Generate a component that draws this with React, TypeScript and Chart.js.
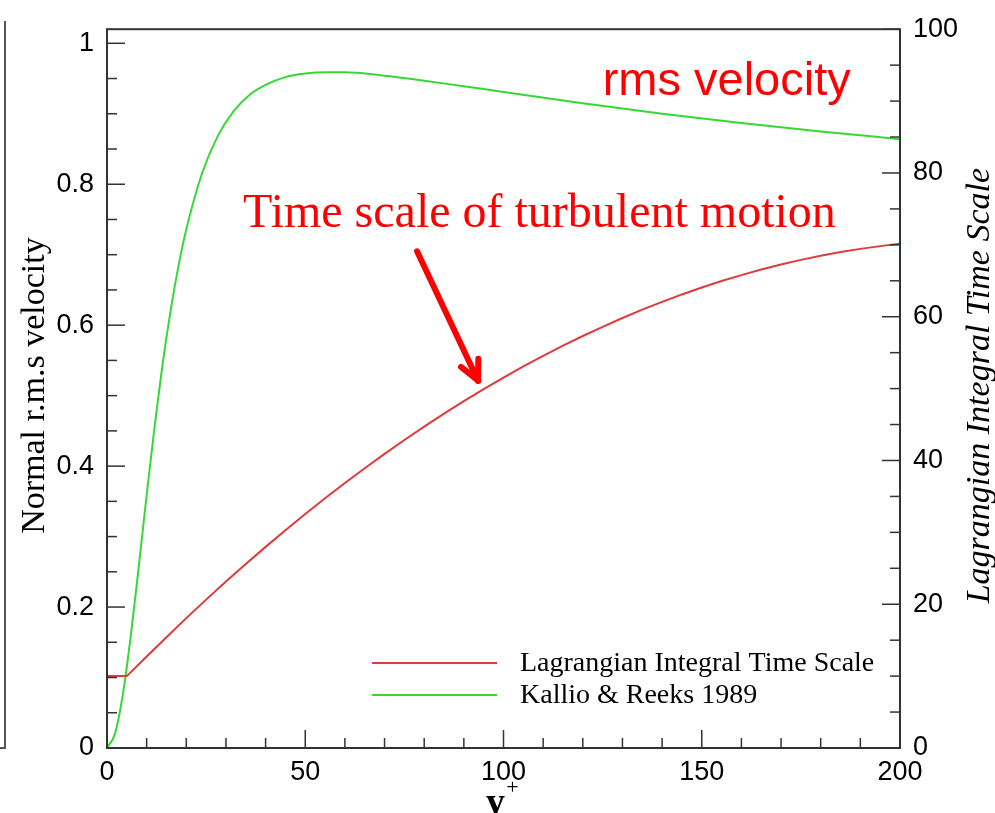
import React, { useEffect, useRef } from 'react';
import { Chart, registerables } from 'chart.js';

Chart.register(...registerables);

// ---- Data ----
const Y_PLUS_RMS = [0, 2, 4, 6, 8, 10, 12, 14, 16, 18, 20, 24, 28, 32, 36, 40, 45, 50, 55, 60, 70, 80, 90, 100, 120, 140, 160, 180, 200];
const RMS_VELOCITY = [0, 0.02, 0.076, 0.159, 0.257, 0.359, 0.456, 0.544, 0.619, 0.683, 0.736, 0.816, 0.869, 0.904, 0.927, 0.941, 0.952, 0.957, 0.959, 0.959, 0.954, 0.947, 0.939, 0.931, 0.915, 0.9, 0.887, 0.875, 0.864];

const Y_PLUS_TL = [0, 5, 10, 15, 20, 25, 30, 35, 40, 45, 50, 55, 60, 65, 70, 75, 80, 85, 90, 95, 100, 105, 110, 115, 120, 125, 130, 135, 140, 145, 150, 155, 160, 165, 170, 175, 180, 185, 190, 195, 200];
const TL_VALUES = [10, 10, 12.72, 15.42, 18.07, 20.64, 23.15, 25.6, 27.98, 30.3, 32.55, 34.74, 36.86, 38.92, 40.92, 42.85, 44.71, 46.52, 48.25, 49.92, 51.53, 53.08, 54.55, 55.97, 57.32, 58.6, 59.82, 60.98, 62.07, 63.1, 64.06, 64.96, 65.79, 66.56, 67.27, 67.91, 68.48, 69.0, 69.44, 69.82, 70.14];

const X_TICKS = [0, 50, 100, 150, 200];
const LEFT_TICKS = [0, 0.2, 0.4, 0.6, 0.8, 1];
const RIGHT_TICKS = [0, 20, 40, 60, 80, 100];

const SERIES_LABELS = ['Lagrangian Integral Time Scale', 'Kallio & Reeks 1989'];
const LEFT_TITLE = 'Normal r.m.s velocity';
const RIGHT_TITLE = 'Lagrangian Integral Time Scale';
const X_TITLE = 'y';
const X_TITLE_SUP = '+';
const NOTE_RMS = 'rms velocity';
const NOTE_TIME = 'Time scale of turbulent motion';

const RED = '#e03a3a';
const GREEN = '#36d836';
const AXIS = '#333333';
const SANS = '"Liberation Sans", Arial, sans-serif';
const SERIF = '"Liberation Serif", "Times New Roman", serif';

const decorPlugin = {
  id: 'decor',
  afterDatasetsDraw(chart: any) {
    const { ctx, chartArea: a, scales } = chart;
    const sx = scales.x, sy = scales.y, sy2 = scales.y2;
    const line = (x1: number, y1: number, x2: number, y2: number) => {
      ctx.beginPath();
      ctx.moveTo(x1, y1);
      ctx.lineTo(x2, y2);
      ctx.stroke();
    };
    ctx.save();
    ctx.strokeStyle = AXIS;
    ctx.lineWidth = 1.5;
    const MAJ = 18, MIN = 10;
    // bottom ticks (every 10, major every 50)
    for (let i = 0; i <= 20; i++) {
      const px = sx.getPixelForValue(i * 10);
      line(px, a.bottom, px, a.bottom - (i % 5 === 0 ? MAJ : MIN));
    }
    // left ticks (every 0.05, major every 0.2)
    for (let i = 0; i <= 20; i++) {
      const py = sy.getPixelForValue(i * 0.05);
      line(a.left, py, a.left + (i % 4 === 0 ? MAJ : MIN), py);
    }
    // right ticks (every 5, major every 20)
    for (let i = 0; i <= 20; i++) {
      const py = sy2.getPixelForValue(i * 5);
      line(a.right, py, a.right - (i % 4 === 0 ? MAJ : MIN), py);
    }
    // frame
    ctx.lineWidth = 2;
    ctx.strokeRect(a.left, a.top, a.right - a.left, a.bottom - a.top);

    // legend
    const ds = chart.data.datasets;
    const lx0 = a.right - 528, lx1 = a.right - 403, tx = a.right - 380;
    const rows = [a.bottom - 85, a.bottom - 53];
    ctx.font = `28px ${SERIF}`;
    ctx.textBaseline = 'middle';
    ctx.textAlign = 'left';
    ds.forEach((d: any, i: number) => {
      ctx.strokeStyle = d.borderColor;
      ctx.lineWidth = 2;
      line(lx0, rows[i], lx1, rows[i]);
      ctx.fillStyle = '#000';
      ctx.fillText(d.label, tx, rows[i] + 1);
    });

    // annotations
    ctx.fillStyle = '#ff0000';
    ctx.textBaseline = 'alphabetic';
    ctx.font = `47px ${SANS}`;
    ctx.fillText(NOTE_RMS, sx.getPixelForValue(125), sy.getPixelForValue(0.927));
    ctx.font = `48px ${SERIF}`;
    ctx.fillText(NOTE_TIME, sx.getPixelForValue(34.3), sy2.getPixelForValue(72.5));

    // arrow
    const ax0 = sx.getPixelForValue(78.2), ay0 = sy2.getPixelForValue(69.1);
    const ax1 = sx.getPixelForValue(93.6), ay1 = sy2.getPixelForValue(51.1);
    ctx.strokeStyle = '#ff0000';
    ctx.lineWidth = 6;
    ctx.lineCap = 'round';
    line(ax0, ay0, ax1, ay1);
    const ang = Math.atan2(ay1 - ay0, ax1 - ax0);
    const hl = 22, spread = 0.45;
    line(ax1, ay1, ax1 - hl * Math.cos(ang - spread), ay1 - hl * Math.sin(ang - spread));
    line(ax1, ay1, ax1 - hl * Math.cos(ang + spread), ay1 - hl * Math.sin(ang + spread));

    // axis titles
    ctx.fillStyle = '#000';
    ctx.textAlign = 'center';
    ctx.textBaseline = 'middle';
    const cy = (a.top + a.bottom) / 2 - 3;
    ctx.save();
    ctx.translate(35, cy);
    ctx.rotate(-Math.PI / 2);
    ctx.font = `34px ${SERIF}`;
    ctx.fillText(LEFT_TITLE, 0, 0);
    ctx.restore();
    ctx.save();
    ctx.translate(a.right + 80, cy);
    ctx.rotate(-Math.PI / 2);
    ctx.font = `italic 34px ${SERIF}`;
    ctx.fillText(RIGHT_TITLE, 0, 0);
    ctx.restore();

    const xc = (a.left + a.right) / 2;
    ctx.textBaseline = 'alphabetic';
    ctx.font = `bold 38px ${SERIF}`;
    ctx.fillText(X_TITLE, xc - 8, a.bottom + 66);
    ctx.textBaseline = 'middle';
    ctx.font = `22px ${SERIF}`;
    ctx.fillText(X_TITLE_SUP, xc + 9, a.bottom + 40);
    ctx.restore();
  },
};

export default function App() {
  const ref = useRef<HTMLCanvasElement | null>(null);
  useEffect(() => {
    document.body.style.margin = '0';
    const canvas = ref.current;
    if (!canvas) return;
    const tickFont = { family: SANS, size: 27 };
    const chart = new Chart(canvas, {
      type: 'line',
      data: {
        datasets: [
          {
            label: SERIES_LABELS[0],
            data: Y_PLUS_TL.map((x, i) => ({ x, y: TL_VALUES[i] })),
            borderColor: RED,
            borderWidth: 2,
            pointRadius: 0,
            fill: false,
            tension: 0,
            yAxisID: 'y2',
          },
          {
            label: SERIES_LABELS[1],
            data: Y_PLUS_RMS.map((x, i) => ({ x, y: RMS_VELOCITY[i] })),
            borderColor: GREEN,
            borderWidth: 2,
            pointRadius: 0,
            fill: false,
            cubicInterpolationMode: 'monotone',
            yAxisID: 'y',
          },
        ],
      },
      options: {
        responsive: false,
        animation: false,
        events: [],
        layout: { padding: { top: 24, left: 0, right: 0, bottom: 0 } },
        plugins: { legend: { display: false }, tooltip: { enabled: false } },
        scales: {
          x: {
            type: 'linear',
            position: 'bottom',
            min: 0,
            max: 200,
            afterBuildTicks: (s: any) => { s.ticks = X_TICKS.map((v) => ({ value: v })); },
            afterFit: (s: any) => { s.height = 65; },
            ticks: { font: tickFont, color: '#000', padding: 8, maxRotation: 0, callback: (v: any) => String(v) },
            grid: { display: false, drawTicks: false },
            border: { display: false },
          },
          y: {
            type: 'linear',
            position: 'left',
            min: 0,
            max: 1.02,
            afterBuildTicks: (s: any) => { s.ticks = LEFT_TICKS.map((v) => ({ value: v })); },
            afterFit: (s: any) => { s.width = 107; },
            ticks: { font: tickFont, color: '#000', padding: 13, callback: (v: any) => String(v) },
            grid: { display: false, drawTicks: false },
            border: { display: false },
          },
          y2: {
            type: 'linear',
            position: 'right',
            min: 0,
            max: 100,
            afterBuildTicks: (s: any) => { s.ticks = RIGHT_TICKS.map((v) => ({ value: v })); },
            afterFit: (s: any) => { s.width = 95; },
            ticks: { font: tickFont, color: '#000', padding: 13, callback: (v: any) => String(v) },
            grid: { display: false, drawTicks: false },
            border: { display: false },
          },
        },
      },
      plugins: [decorPlugin],
    } as any);
    return () => chart.destroy();
  }, []);

  return (
    <div style={{ position: 'absolute', left: 0, top: 0, width: 995, height: 813, background: '#fff', overflow: 'hidden' }}>
      <div
        style={{
          position: 'absolute',
          left: 0,
          top: 21,
          width: 4,
          height: 726,
          borderRight: '2px solid #555',
          borderBottom: '2px solid #555',
        }}
      />
      <canvas ref={ref} width={995} height={813} style={{ position: 'absolute', left: 0, top: 0, width: 995, height: 813 }} />
    </div>
  );
}
